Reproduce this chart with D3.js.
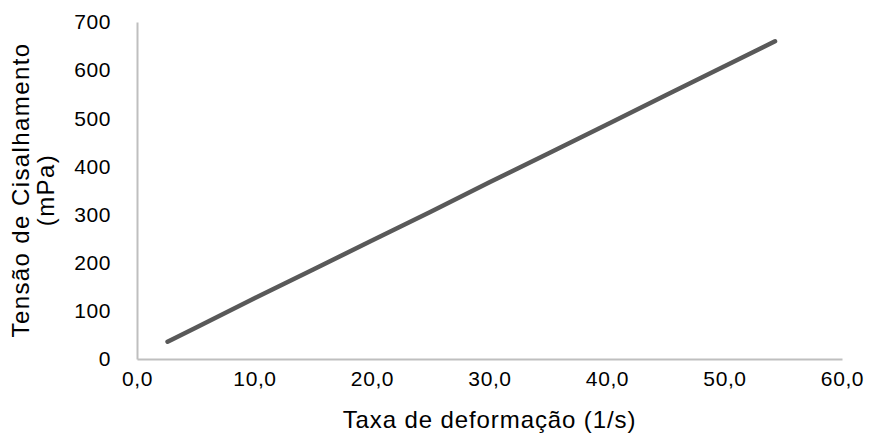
<!DOCTYPE html>
<html>
<head>
<meta charset="utf-8">
<script src="https://cdn.jsdelivr.net/npm/d3@7"></script>
<style>
  body { margin: 0; background: #fff; }
  text { font-family: "Liberation Sans", Arial, sans-serif; fill: #000; }
</style>
</head>
<body>
<div id="chart-area"></div>
<script>
// Data
var rates = [2.6, 5.0, 10.0, 15.0, 20.0, 25.0, 30.0, 35.0, 40.0, 45.0, 50.0, 54.3];
var stress = [36, 65, 126, 186, 246, 306, 367, 427, 487, 548, 608, 660];
var xTicks = [0, 10, 20, 30, 40, 50, 60];
var yTicks = [0, 100, 200, 300, 400, 500, 600, 700];

var data = rates.map(function(r, i) { return { x: r, y: stress[i] }; });

var W = 870, H = 443;
var margin = { top: 22, right: 28, bottom: 84, left: 137 };
var width = W - margin.left - margin.right;
var height = H - margin.top - margin.bottom;

var svg = d3.select("#chart-area").append("svg")
    .attr("width", W)
    .attr("height", H);

var g = svg.append("g")
  .attr("transform", "translate(" + margin.left + "," + margin.top + ")");

var x = d3.scaleLinear().domain([0, 60]).range([0, width]);
var y = d3.scaleLinear().domain([0, 700]).range([height, 0]);

// Axes
var xAxis = g.append("g")
  .attr("transform", "translate(0," + height + ")")
  .call(d3.axisBottom(x).tickValues(xTicks).tickSize(0).tickPadding(12)
    .tickFormat(function(d) { return d3.format(".1f")(d).replace(".", ","); }));

var yAxis = g.append("g")
  .call(d3.axisLeft(y).tickValues(yTicks).tickSize(0).tickPadding(26));

[xAxis, yAxis].forEach(function(a) {
  a.select(".domain").attr("stroke", "#bfbfbf").attr("stroke-width", 2);
  a.selectAll("text").attr("font-size", "21px").attr("fill", "#000")
    .attr("font-family", "Liberation Sans, Arial, sans-serif")
    .attr("letter-spacing", "0.6px");
});

// Labels
g.append("text")
  .attr("x", width / 2)
  .attr("y", height + 69)
  .attr("text-anchor", "middle")
  .attr("font-size", "24px")
  .attr("letter-spacing", "0.9px")
  .text("Taxa de deformação (1/s)");

var yl = svg.append("text")
  .attr("transform", "translate(29,190) rotate(-90)")
  .attr("text-anchor", "middle")
  .attr("font-size", "24px")
  .attr("letter-spacing", "1.4px");
yl.append("tspan").attr("x", 0).attr("dy", 0).text("Tensão de Cisalhamento");
yl.append("tspan").attr("x", 0).attr("dy", 25).text("(mPa)");

// Line
var line = d3.line()
  .x(function(d) { return x(d.x); })
  .y(function(d) { return y(d.y); });

g.append("path")
  .datum(data)
  .attr("d", line)
  .attr("fill", "none")
  .attr("stroke", "#595959")
  .attr("stroke-width", 4.5)
  .attr("stroke-linecap", "round");
</script>
</body>
</html>
